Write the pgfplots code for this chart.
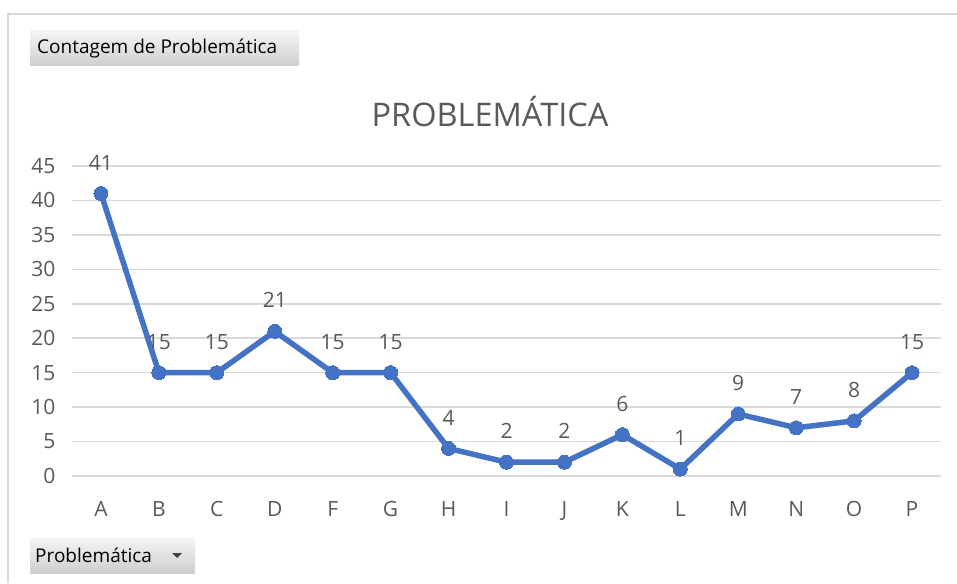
\documentclass[border=0pt]{standalone}
\usepackage{pgfplots}
\pgfplotsset{compat=1.18}
\usepackage{fontspec}
\setmainfont{Open Sans}
\definecolor{linec}{HTML}{4472C4}
\definecolor{gridc}{HTML}{D9D9D9}
\definecolor{txtc}{HTML}{595959}
\begin{document}
\begin{tikzpicture}[x=1pt,y=1pt]
\path[use as bounding box] (0,0) rectangle (957,583);
\fill[white] (0,0) rectangle (957,583);
% chart border
\draw[gridc, line width=2pt] (8,0) -- (8,569) -- (957,569);
% buttons
\shade[top color=gray!8, bottom color=gray!38] (30,517) rectangle (299,552);
\node[anchor=west, inner sep=0pt, font=\fontsize{19}{22}\selectfont] at (37,534.5) {Contagem de Problemática};
\shade[top color=gray!8, bottom color=gray!38] (30,10) rectangle (195,45);
\node[anchor=west, inner sep=0pt, font=\fontsize{19}{22}\selectfont] at (35,27.5) {Problemática};
\fill[black!75] (172,30) -- (182,30) -- (177,25) -- cycle;
% title
\node[font=\fontsize{32.5}{38}\selectfont, text=txtc] at (490,471) {PROBLEMÁTICA};
\begin{axis}[
  at={(72pt,107pt)}, anchor=south west,
  scale only axis, width=869pt, height=310pt,
  xmin=-0.5, xmax=14.5, ymin=0, ymax=45,
  ytick={0,5,...,45},
  xtick={0,...,14},
  xticklabels={A,B,C,D,F,G,H,I,J,K,L,M,N,O,P},
  ymajorgrids,
  grid style={gridc, line width=1.5pt},
  axis line style={draw=none},
  major tick style={draw=none},
  /pgf/number format/assume math mode=true,
  tick label style={text=txtc, font=\fontsize{21}{24}\selectfont},
  yticklabel style={xshift=-13pt},
  xticklabel style={yshift=-22pt},
  clip=false,
  nodes near coords,
  every node near coord/.append style={text=txtc, font=\fontsize{21}{24}\selectfont, anchor=south, yshift=20pt},
]
\addplot[linec, line width=5.5pt, mark=*, mark size=7pt, mark options={fill=linec, line width=0pt}, line join=round] coordinates {
(0,41) (1,15) (2,15) (3,21) (4,15) (5,15) (6,4) (7,2) (8,2) (9,6) (10,1) (11,9) (12,7) (13,8) (14,15)
};
\end{axis}
\end{tikzpicture}
\end{document}
